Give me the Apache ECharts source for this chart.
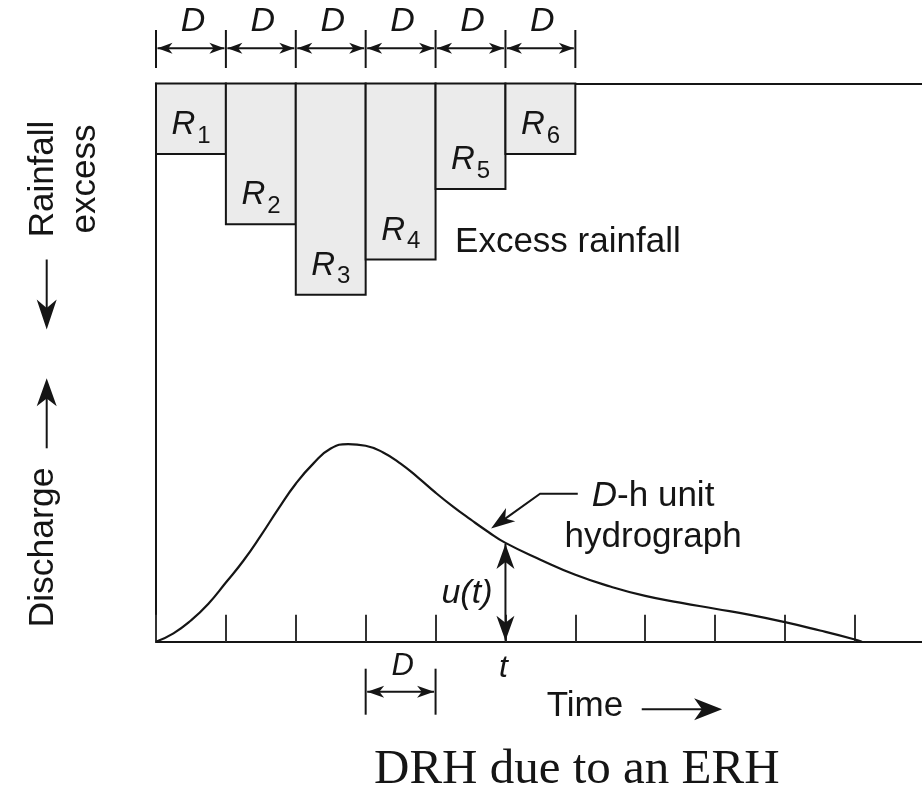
<!DOCTYPE html>
<html>
<head>
<meta charset="utf-8">
<script src="https://cdn.jsdelivr.net/npm/echarts/dist/echarts.min.js"></script>
<style>
html,body{margin:0;padding:0;background:#ffffff;}
#c{width:922px;height:791px;}
</style>
</head>
<body>
<div id="c"></div>
<script>
// ---------------- data ----------------
const D = 1;                                  // rainfall block duration (time units of D)
const rainStart = [0, 1, 2, 3, 4, 5];         // start of each excess-rainfall block
const rainDepth = [2, 4, 6, 5, 3, 2];         // relative excess rainfall depths R1..R6
const rainLabels = ['1', '2', '3', '4', '5', '6'];

// D-h unit hydrograph ordinates (time in D, discharge in relative units)
const uhTime = [0, 0.25, 0.5, 0.75, 1.0, 1.25, 1.5, 1.75, 2.0, 2.25, 2.5, 2.75, 3.0, 3.25, 3.5, 3.75,
                4.0, 4.25, 4.5, 4.75, 5.0, 5.5, 6.0, 6.5, 7.0, 7.5, 8.0, 8.5, 9.0, 9.5, 10.0, 10.1];
const uhFlow = [0, 1.5, 3.8, 6.8, 10.6, 14.5, 19.0, 23.8, 28.3, 31.9, 34.6, 35.4, 35.1, 33.9, 31.9, 29.4,
                26.7, 24.2, 21.9, 19.7, 17.7, 14.7, 12.0, 9.9, 8.2, 7.0, 5.9, 4.8, 3.5, 2.0, 0.4, 0];

const timeTicks = [0, 1, 2, 3, 4, 5, 6, 7, 8, 9, 10];
const tMark = 5;                 // time t where u(t) is shown
const uAtT = 17.7;               // u(t) at t = tMark
const dMarkStart = 3;            // the "D" span drawn under the time axis
const leaderAnchor = [4.78, 20.1]; // point on curve where the label arrow points

// ---------------- drawing helpers ----------------
const INK = '#151515';
const SANS = '"Liberation Sans", Arial, Helvetica, sans-serif';
const SERIF = '"Liberation Serif", "Times New Roman", serif';

function seg(x1, y1, x2, y2, w) {
  return { type: 'line', shape: { x1, y1, x2, y2 }, style: { stroke: INK, lineWidth: w || 2 } };
}
function head(tip, from, len, hw) {
  const dx = tip[0] - from[0], dy = tip[1] - from[1];
  const L = Math.hypot(dx, dy) || 1;
  const ux = dx / L, uy = dy / L, nx = -uy, ny = ux;
  const bx = tip[0] - ux * len, by = tip[1] - uy * len;
  const mx = tip[0] - ux * len * 0.72, my = tip[1] - uy * len * 0.72;
  return { type: 'polygon',
    shape: { points: [[tip[0], tip[1]], [bx + nx * hw, by + ny * hw], [mx, my], [bx - nx * hw, by - ny * hw]] },
    style: { fill: INK } };
}
function dbl(p1, p2, len, hw, w) {
  return [seg(p1[0], p1[1], p2[0], p2[1], w), head(p1, p2, len, hw), head(p2, p1, len, hw)];
}
function txt(x, y, text, size, opt) {
  opt = opt || {};
  const st = { text, fill: INK, fontSize: size, fontFamily: opt.family || SANS,
    fontStyle: opt.italic ? 'italic' : 'normal', fontWeight: 'normal',
    align: opt.align || 'center', verticalAlign: 'middle' };
  if (opt.rich) st.rich = opt.rich;
  if (opt.lh) st.lineHeight = opt.lh;
  return { type: 'text', x, y, rotation: opt.rot || 0, style: st };
}

// ---------------- series renderers ----------------
function renderRain(params, api) {
  const s = api.value(0), e = api.value(1), d = api.value(2);
  const p0 = api.coord([s, 0]), p1 = api.coord([e, d]);
  const cx = (p0[0] + p1[0]) / 2, yb = p1[1];
  return { type: 'group', children: [
    { type: 'rect', shape: { x: p0[0], y: p0[1], width: p1[0] - p0[0], height: p1[1] - p0[1] },
      style: { fill: '#ebebeb', stroke: INK, lineWidth: 2 } },
    txt(cx - 7.5, yb - 29, 'R', 33, { italic: true }),
    txt(cx + 13, yb - 18, rainLabels[params.dataIndex], 24)
  ] };
}

function renderNotes(params, api) {
  const cs = params.coordSys;
  const top = cs.y, left = cs.x;
  const X = v => api.coord([v, 0])[0];
  const yb = api.coord([0, 0])[1];
  const ch = [];

  // D spans above the rainfall blocks
  const bounds = rainStart.concat([rainStart[rainStart.length - 1] + D]);
  bounds.forEach(b => ch.push(seg(X(b), top - 53.5, X(b), top - 15.5, 2)));
  rainStart.forEach(s => {
    const a = X(s), b = X(s + D), y = top - 35.2;
    ch.push(...dbl([a + 1.5, y], [b - 1.5, y], 15, 5.5, 2));
    ch.push(txt((a + b) / 2 + 2, top - 61.5, 'D', 34, { italic: true }));
  });

  // "Excess rainfall"
  ch.push(txt(X(4) + 19.5, top + 158.5, 'Excess rainfall', 35, { align: 'left' }));

  // D span below the time axis
  {
    const a = X(dMarkStart), b = X(dMarkStart + D);
    ch.push(seg(a, yb + 27, a, yb + 73, 2), seg(b, yb + 27, b, yb + 73, 2));
    ch.push(...dbl([a + 1.5, yb + 50], [b - 1.5, yb + 50], 17, 6, 2));
    ch.push(txt((a + b) / 2 + 2, yb + 25, 'D', 31, { italic: true }));
  }

  // t label and u(t) arrow
  {
    const x = X(tMark);
    const yt = api.coord([tMark, uAtT])[1];
    ch.push(txt(x - 2, yb + 26, 't', 32, { italic: true }));
    ch.push(...dbl([x, yt + 1], [x, yb - 1], 25, 9, 2));
    ch.push(txt(x - 13, (yt + yb) / 2 + 1.5, 'u(t)', 34, { italic: true, align: 'right' }));
  }

  // D-h unit hydrograph label with leader arrow
  {
    const tip = api.coord(leaderAnchor);
    const elbow = [tip[0] + 50, tip[1] - 35.7];
    const end = [tip[0] + 87.7, tip[1] - 35.7];
    const ux = tip[0] - elbow[0], uy = tip[1] - elbow[1], L = Math.hypot(ux, uy);
    const stop = [tip[0] - ux / L * 14, tip[1] - uy / L * 14];
    ch.push({ type: 'polyline', shape: { points: [end, elbow, stop] },
      style: { stroke: INK, lineWidth: 2, fill: null } });
    ch.push(head([tip[0] + 1, tip[1] - 1], elbow, 24, 8));
    ch.push({ type: 'text', x: tip[0] + 163, y: tip[1] - 13, style: {
      text: '{i|D}{n|-h unit}\n{n|hydrograph}', fill: INK, align: 'center', verticalAlign: 'middle',
      fontSize: 35, fontFamily: SANS, lineHeight: 41,
      rich: {
        i: { fontSize: 35, fontFamily: SANS, fontStyle: 'italic', lineHeight: 41, fill: INK },
        n: { fontSize: 35, fontFamily: SANS, lineHeight: 41, fill: INK }
      } } });
  }

  // Time →
  {
    const y = yb + 67.5;
    ch.push(txt(X(5.59), yb + 65, 'Time', 35, { align: 'left' }));
    const a = X(6.95), b = X(8.1);
    ch.push(seg(a, y, b - 18, y, 2), head([b, y], [a, y], 28, 11));
  }

  // Left axis names (rotated)
  {
    const xl = left - 112.5;
    ch.push(txt(xl, top + 95.5, 'Rainfall', 35, { rot: Math.PI / 2 }));
    ch.push(txt(xl + 41.7, top + 95.5, 'excess', 35, { rot: Math.PI / 2 }));
    const xa = left - 109.3;
    ch.push(seg(xa, top + 176, xa, top + 230, 2), head([xa, top + 246], [xa, top + 176], 30, 10));
    ch.push(seg(xa, yb - 193.4, xa, yb - 248, 2), head([xa, yb - 263.4], [xa, yb - 193.4], 28, 10));
    ch.push(txt(xl, yb - 94.2, 'Discharge', 35.5, { rot: Math.PI / 2 }));
  }

  return { type: 'group', children: ch };
}

// ---------------- chart ----------------
const chart = echarts.init(document.getElementById('c'), null, { renderer: 'canvas' });

const axisLineStyle = { color: INK, width: 2 };
const option = {
  animation: false,
  backgroundColor: '#ffffff',
  title: {
    text: 'DRH due to an ERH', left: 374, top: 746, padding: 0,
    textStyle: { fontFamily: SERIF, fontSize: 49, fontWeight: 'normal', color: INK }
  },
  grid: { left: 156, top: 83.5, right: 0, bottom: 149.3, containLabel: false, outerBoundsMode: 'none' },
  xAxis: [
    { type: 'value', min: 0, max: 10.96, interval: 1, position: 'bottom',
      axisLine: { show: true, onZero: false, lineStyle: axisLineStyle },
      axisTick: { show: true, inside: true, length: 27, customValues: timeTicks,
        lineStyle: { color: '#333', width: 2 } },
      axisLabel: { show: false }, splitLine: { show: false } },
    { type: 'value', min: 0, max: 10.96, interval: 1, position: 'top',
      axisLine: { show: true, onZero: false, lineStyle: axisLineStyle },
      axisTick: { show: false }, axisLabel: { show: false }, splitLine: { show: false } }
  ],
  yAxis: [
    { type: 'value', min: 0, max: 100, position: 'left',
      axisLine: { show: true, onZero: false, lineStyle: axisLineStyle },
      axisTick: { show: false }, axisLabel: { show: false }, splitLine: { show: false } },
    { type: 'value', min: 0, max: 15.86, inverse: true, position: 'right', show: false,
      axisLine: { show: false }, axisTick: { show: false }, axisLabel: { show: false }, splitLine: { show: false } }
  ],
  series: [
    { type: 'custom', name: 'Excess rainfall', xAxisIndex: 0, yAxisIndex: 1, z: 2,
      renderItem: renderRain,
      data: rainStart.map((s, i) => [s, s + D, rainDepth[i]]) },
    { type: 'line', name: 'D-h unit hydrograph', xAxisIndex: 0, yAxisIndex: 0, z: 3,
      smooth: 0.5, showSymbol: false, symbol: 'none',
      lineStyle: { color: INK, width: 2.2 },
      data: uhTime.map((t, i) => [t, uhFlow[i]]) },
    { type: 'custom', name: 'notes', xAxisIndex: 0, yAxisIndex: 0, z: 4, clip: false, silent: true,
      renderItem: renderNotes, data: [[0, 0]] }
  ]
};
chart.setOption(option);
</script>
</body>
</html>
